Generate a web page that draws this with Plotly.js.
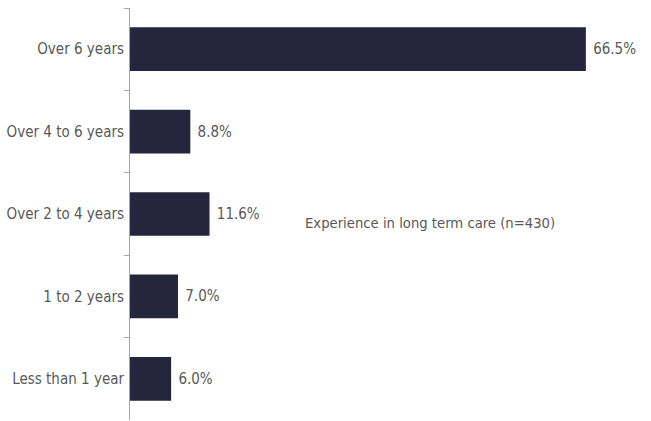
<!DOCTYPE html>
<html>
<head>
<meta charset="utf-8">
<script src="https://cdn.plot.ly/plotly-3.0.1.min.js"></script>
<style>html,body{margin:0;padding:0;background:#fff;}#chart{width:651px;height:421px;}</style>
</head>
<body>
<div id="chart"></div>
<script>
var categories = ["Over 6 years", "Over 4 to 6 years", "Over 2 to 4 years", "1 to 2 years", "Less than 1 year"];
var values = [66.5, 8.8, 11.6, 7.0, 6.0];
var valueLabels = ["66.5%", "8.8%", "11.6%", "7.0%", "6.0%"];
var chartTitle = "Experience in long term care (n=430)";

var fontFam = "'DejaVu Sans Condensed', 'DejaVu Sans', sans-serif";
var grey = "#595959";

var trace = {
  type: "bar",
  orientation: "h",
  y: categories,
  x: values,
  text: valueLabels,
  texttemplate: "&nbsp;%{text}",
  textposition: "outside",
  cliponaxis: false,
  textfont: {family: fontFam, size: 15, color: grey},
  marker: {color: "#25253d"},
  width: 0.53,
  hoverinfo: "none"
};

var layout = {
  width: 651,
  height: 421,
  margin: {l: 130, r: 11, t: 8, b: 1},
  paper_bgcolor: "#ffffff",
  plot_bgcolor: "#ffffff",
  showlegend: false,
  font: {family: fontFam, size: 15, color: grey},
  xaxis: {
    range: [0, 74.4],
    visible: false,
    fixedrange: true
  },
  yaxis: {
    type: "category",
    autorange: "reversed",
    showline: true,
    linecolor: "#a6a6a6",
    linewidth: 1,
    ticks: "outside",
    tickson: "boundaries",
    ticklen: 5,
    tickcolor: "#a6a6a6",
    showgrid: false,
    zeroline: false,
    tickfont: {family: fontFam, size: 15, color: grey},
    ticklabelstandoff: 2
  },
  annotations: [{
    xref: "paper", yref: "paper",
    x: 0.588, y: 0.48,
    xanchor: "center", yanchor: "middle",
    text: chartTitle,
    showarrow: false,
    font: {family: fontFam, size: 14.7, color: grey}
  }]
};

Plotly.newPlot("chart", [trace], layout, {displayModeBar: false, staticPlot: true});
</script>
</body>
</html>
